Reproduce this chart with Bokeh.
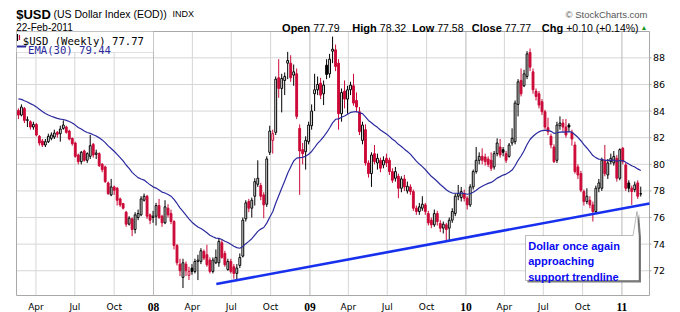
import pandas as pd
from bokeh.plotting import figure
from bokeh.models import (ColumnDataSource, Range1d, Label, BoxAnnotation, PolyAnnotation)
from bokeh.embed import file_html
from bokeh.resources import INLINE

# ---------------- data (weekly candles) ----------------
week_start = "2007-02-19"

opens = [
    84.05, 83.7, 84.2, 83.3, 83.2, 82.8, 83.0, 82.1, 81.75, 81.45,
    81.7, 81.95, 82.05, 82.4, 82.3, 82.7, 82.8, 82.5, 81.95, 81.6,
    80.7, 80.2, 81.0, 80.3, 80.6, 81.5, 80.75, 80.8, 80.0, 79.8,
    78.6, 77.7, 78.3, 78.2, 77.4, 77.05, 76.4, 75.5, 75.9, 75.1,
    76.0, 76.2, 77.3, 77.6, 76.2, 76.0, 76.1, 76.9, 76.1, 75.6,
    76.7, 76.3, 75.7, 73.9, 72.5, 71.5, 72.5, 71.65, 72.2, 71.95,
    72.7, 72.7, 73.45, 73.2, 72.8, 71.95, 72.6, 72.6, 74.1, 73.3,
    72.1, 72.7, 72.3, 71.8, 72.4, 73.1, 75.9, 77.2, 76.7, 77.6,
    78.5, 78.4, 77.7, 77.0, 80.9, 81.8, 82.4, 86.5, 85.7, 86.3,
    87.6, 87.6, 86.7, 86.8, 82.7, 81.1, 80.95, 81.7, 82.9, 85.3,
    85.6, 86.1, 85.3, 87.45, 86.8, 88.5, 88.6, 87.6, 83.8, 85.5,
    84.9, 85.6, 85.9, 84.8, 83.95, 81.8, 82.6, 80.1, 79.3, 80.8,
    80.1, 80.3, 79.95, 80.45, 80.3, 79.45, 78.95, 79.1, 78.2, 78.9,
    78.0, 78.3, 77.95, 76.7, 76.45, 76.7, 76.95, 76.3, 75.8, 75.45,
    76.3, 75.55, 75.2, 75.45, 75.2, 75.8, 76.3, 77.6, 77.5, 77.8,
    77.45, 76.95, 78.3, 79.45, 80.3, 80.6, 80.55, 80.4, 80.3, 79.8,
    80.8, 81.3, 81.1, 80.8, 80.6, 81.6, 81.7, 84.5, 86.3, 85.9,
    86.6, 88.4, 86.95, 85.5, 85.3, 84.7, 83.95, 82.75, 82.1, 81.3,
    80.3, 82.9, 83.1, 82.8, 82.95, 82.4, 81.45, 79.8, 79.3, 77.95,
    77.2, 77.3, 76.95, 76.45, 78.2, 78.2, 80.3, 79.2, 80.2, 80.1,
    80.45, 78.95, 81.2, 79.95, 78.6, 78.2, 78.1, 78.6, 77.79,
]
highs = [
    84.2, 84.5, 84.3, 83.6, 83.3, 83.2, 83.1, 82.2, 81.9, 81.9,
    82.3, 82.4, 82.6, 82.5, 82.9, 83.3, 82.9, 82.6, 82.0, 81.7,
    80.8, 81.0, 81.1, 80.9, 82.2, 81.6, 81.1, 80.9, 80.1, 79.9,
    78.7, 78.9, 78.4, 78.3, 77.5, 77.1, 76.5, 76.1, 76.0, 76.4,
    76.6, 77.6, 77.8, 77.7, 76.3, 76.5, 77.1, 77.4, 76.2, 77.3,
    77.0, 76.6, 75.8, 74.0, 72.9, 72.9, 72.7, 72.3, 72.5, 72.9,
    73.2, 73.7, 73.6, 73.95, 73.0, 73.0, 73.6, 74.4, 74.3, 73.5,
    72.9, 72.9, 72.5, 72.5, 73.3, 76.0, 77.3, 77.4, 77.5, 78.95,
    80.3, 78.6, 77.9, 80.6, 82.9, 82.6, 86.6, 87.9, 86.8, 86.9,
    88.45, 88.2, 87.5, 87.2, 83.0, 81.6, 82.1, 83.2, 84.5, 86.8,
    86.6, 86.5, 86.3, 87.9, 88.3, 89.6, 89.0, 87.9, 85.7, 86.3,
    85.9, 86.2, 86.8, 85.4, 84.3, 83.2, 83.0, 80.3, 80.9, 81.45,
    80.8, 80.5, 80.6, 80.8, 80.5, 79.7, 79.8, 79.3, 79.1, 79.2,
    78.7, 78.5, 78.1, 76.9, 77.1, 77.6, 77.1, 76.5, 76.0, 76.6,
    76.5, 75.8, 75.7, 75.6, 76.0, 76.7, 77.8, 78.45, 78.3, 78.1,
    77.6, 78.5, 79.6, 81.3, 80.9, 81.2, 80.8, 80.6, 80.9, 81.0,
    81.95, 81.9, 81.3, 81.0, 81.6, 82.7, 84.8, 86.4, 87.2, 87.1,
    88.5, 88.7, 87.2, 85.7, 85.5, 84.9, 84.1, 83.5, 82.3, 81.5,
    83.2, 83.6, 83.4, 83.4, 83.1, 82.6, 81.7, 80.0, 79.5, 78.1,
    78.2, 77.6, 77.2, 78.4, 78.9, 80.5, 81.45, 80.4, 80.8, 81.0,
    80.7, 81.2, 81.3, 80.1, 78.8, 78.4, 78.7, 78.8, 78.32,
]
lows = [
    83.4, 83.6, 83.1, 82.8, 82.6, 82.6, 82.1, 81.4, 81.3, 81.3,
    81.6, 81.8, 81.9, 82.0, 81.7, 82.6, 82.3, 81.8, 81.4, 80.5,
    80.0, 80.0, 80.2, 80.1, 80.4, 80.5, 80.4, 79.8, 79.4, 78.6,
    77.7, 77.6, 77.7, 76.9, 76.8, 76.6, 75.3, 75.4, 74.6, 74.8,
    75.8, 76.1, 77.2, 75.9, 75.5, 75.6, 75.4, 75.9, 75.3, 75.5,
    76.0, 75.5, 73.6, 72.4, 71.6, 70.7, 71.6, 71.3, 71.7, 71.8,
    71.3, 72.5, 72.8, 72.3, 71.8, 71.8, 72.5, 72.3, 72.9, 72.3,
    72.0, 71.8, 71.4, 71.3, 72.2, 73.0, 75.7, 76.4, 76.0, 76.9,
    78.3, 77.3, 75.95, 76.8, 80.7, 80.8, 82.2, 85.0, 83.9, 85.2,
    86.4, 86.2, 85.9, 83.4, 77.7, 80.0, 79.6, 81.5, 82.6, 84.0,
    85.2, 84.9, 84.45, 86.4, 86.5, 87.6, 87.0, 82.6, 83.2, 84.2,
    83.8, 85.2, 84.4, 83.9, 82.2, 81.5, 79.9, 79.0, 78.3, 80.0,
    79.6, 79.4, 79.7, 79.8, 79.2, 78.6, 78.7, 77.45, 77.9, 78.0,
    77.8, 77.7, 76.5, 76.2, 76.2, 76.5, 76.2, 75.4, 75.2, 75.3,
    75.4, 74.9, 74.8, 74.3, 74.2, 75.6, 76.1, 77.3, 77.2, 77.2,
    76.6, 76.8, 78.1, 79.3, 80.0, 80.0, 79.9, 79.8, 79.5, 79.6,
    80.6, 80.5, 80.6, 80.1, 80.5, 81.4, 81.5, 83.6, 85.1, 85.8,
    86.4, 87.0, 85.3, 84.8, 84.2, 83.7, 82.6, 82.2, 81.2, 80.1,
    80.1, 82.6, 82.5, 82.0, 82.5, 81.4, 79.3, 78.9, 77.9, 76.9,
    77.0, 76.7, 75.7, 76.3, 77.9, 78.0, 79.1, 78.9, 80.0, 79.9,
    78.7, 78.8, 80.0, 78.0, 77.9, 76.95, 77.9, 77.4, 77.58,
]
closes = [
    83.7, 84.3, 83.3, 83.35, 82.8, 83.0, 82.2, 81.6, 81.45, 81.7,
    82.1, 82.2, 82.35, 82.25, 82.65, 82.95, 82.4, 81.9, 81.55, 80.6,
    80.2, 80.9, 80.3, 80.8, 81.4, 80.7, 80.85, 79.9, 79.6, 78.7,
    77.8, 78.3, 78.05, 77.3, 76.95, 76.7, 75.5, 75.95, 75.1, 76.2,
    76.3, 77.4, 77.6, 76.1, 75.8, 76.1, 76.9, 76.0, 75.6, 76.8,
    76.2, 75.7, 73.9, 72.6, 72.0, 72.6, 72.0, 71.95, 71.95, 72.7,
    72.8, 73.5, 72.95, 72.45, 71.95, 72.8, 73.0, 74.2, 73.0, 72.45,
    72.7, 71.95, 71.8, 72.2, 73.0, 75.8, 77.1, 76.7, 77.3, 78.7,
    78.95, 77.6, 76.95, 80.4, 82.5, 82.3, 86.4, 85.7, 86.45, 86.6,
    87.8, 86.5, 86.95, 83.6, 81.0, 80.8, 81.8, 82.95, 84.0, 85.6,
    86.0, 85.2, 85.95, 86.75, 87.9, 88.65, 87.35, 83.8, 85.4, 84.9,
    85.6, 85.95, 84.6, 84.3, 82.45, 82.95, 80.1, 79.3, 80.7, 80.2,
    80.45, 79.7, 80.3, 80.1, 79.45, 78.8, 79.45, 78.2, 78.9, 78.3,
    78.35, 77.95, 76.7, 76.45, 76.8, 77.0, 76.45, 75.6, 75.45, 76.3,
    75.7, 75.2, 75.5, 75.1, 75.8, 76.45, 77.6, 77.8, 77.95, 77.45,
    76.95, 78.3, 79.45, 80.3, 80.6, 80.3, 80.2, 80.0, 79.7, 80.8,
    81.6, 80.7, 80.9, 80.3, 81.45, 81.95, 84.6, 86.2, 85.3, 86.8,
    88.3, 87.3, 85.6, 85.1, 84.45, 83.95, 82.8, 82.45, 81.45, 80.2,
    82.95, 83.1, 82.8, 82.2, 82.8, 81.9, 79.45, 79.2, 78.05, 77.2,
    77.6, 76.95, 76.45, 78.2, 78.6, 80.3, 79.3, 80.1, 80.45, 80.6,
    78.95, 81.1, 80.2, 78.2, 78.2, 77.95, 78.45, 77.6, 77.77,
]

ema_period = 30
ema_seed = 85.0          # EMA level at the left edge of the chart

y_ticks = [72, 74, 76, 78, 80, 82, 84, 86, 88]
month_ticks = ["2007-04-01", "2007-07-01", "2007-10-01", "2008-01-01",
               "2008-04-01", "2008-07-01", "2008-10-01", "2009-01-01",
               "2009-04-01", "2009-07-01", "2009-10-01", "2010-01-01",
               "2010-04-01", "2010-07-01", "2010-10-01", "2011-01-01"]
month_labels = ["Apr", "Jul", "Oct", "08", "Apr", "Jul", "Oct", "09",
                "Apr", "Jul", "Oct", "10", "Apr", "Jul", "Oct", "11"]

trend_dates = ["2008-05-27", "2011-03-06 12:00"]
trend_values = [71.0, 77.06]

note_lines = ["Dollar once again", "approaching", "support trendline"]

# ---------------- helpers ----------------
n = min(len(opens), len(highs), len(lows), len(closes))
opens, highs, lows, closes = opens[:n], highs[:n], lows[:n], closes[:n]


def ms(d):
    return pd.Timestamp(d).value / 1e6


dates = pd.date_range(week_start, periods=n, freq="7D")
xs = [d.value / 1e6 for d in dates]

# price-panel extent (data) and its place in picture pixels
X_START = ms("2007-02-14 12:00")
X_END = ms("2011-03-06 12:00")
Y_START, Y_END = 70.14, 89.98
REF_L, REF_R, REF_T, REF_B = 16, 649, 31, 295
W, H = 680, 312


def fx(px):
    return X_START + (px - REF_L) * (X_END - X_START) / (REF_R - REF_L)


def fy(py):
    return Y_END - (py - REF_T) * (Y_END - Y_START) / (REF_B - REF_T)


RED = "#cc0a38"
SANS = "Liberation Sans"
GRID = "#d6d6d6"

# the whole canvas is the frame
p = figure(width=W, height=H, output_backend="svg", toolbar_location=None,
           x_range=Range1d(fx(0), fx(W)), y_range=Range1d(fy(H), fy(0)),
           x_axis_location=None, y_axis_location=None,
           min_border=0, min_border_left=0, min_border_right=0,
           min_border_top=0, min_border_bottom=0,
           outline_line_color=None, background_fill_color="white",
           border_fill_color="white")
p.xgrid.visible = False
p.ygrid.visible = False

# grid lines inside the price panel
p.segment(x0=[X_START] * len(y_ticks), x1=[X_END] * len(y_ticks), y0=y_ticks, y1=y_ticks,
          line_color=GRID, line_width=1)
mt = [ms(t) for t in month_ticks]
p.segment(x0=mt, x1=mt, y0=[Y_START] * len(mt), y1=[Y_END] * len(mt),
          line_color=["#b9b9b9" if l.isdigit() else GRID for l in month_labels],
          line_width=1)
# panel border
p.quad(left=[X_START], right=[X_END], bottom=[Y_START], top=[Y_END],
       fill_color=None, line_color="#a8a8a8", line_width=1)

# ---------------- candles ----------------
prev = [opens[0]] + closes[:-1]
colors = ["#000000" if c >= pc else RED for c, pc in zip(closes, prev)]
fills = [col if c < o else "#ffffff" for col, o, c in zip(colors, opens, closes)]
src = ColumnDataSource(dict(
    x=xs, high=highs, low=lows,
    top=[max(o, c) for o, c in zip(opens, closes)],
    bottom=[min(o, c) for o, c in zip(opens, closes)],
    color=colors, fill=fills))
BODY_W = 4.3 * 24 * 3600 * 1000
p.segment(x0="x", y0="low", x1="x", y1="high", line_color="color", line_width=1, source=src)
p.vbar(x="x", width=BODY_W, top="top", bottom="bottom", fill_color="fill",
       line_color="color", line_width=1, source=src)

# EMA(30)
alpha = 2.0 / (ema_period + 1)
ema = []
e = ema_seed
for c in closes:
    e = e + alpha * (c - e)
    ema.append(e)
p.line(xs, ema, line_color="#2a2a9e", line_width=1.2)

# trendline
p.line([ms(d) for d in trend_dates], trend_values, line_color="#1630ee", line_width=2.6)


def lab(text, px, py, size, font=SANS, style="normal", color="#000000", align="left",
        baseline="alphabetic", x=None, y=None):
    p.add_layout(Label(x=fx(px) if x is None else x, y=fy(py) if y is None else y,
                       text=text, text_font=font,
                       text_font_size=size, text_font_style=style, text_color=color,
                       text_align=align, text_baseline=baseline))


# right price scale
p.segment(x0=[X_END] * len(y_ticks), x1=[fx(REF_R + 2)] * len(y_ticks), y0=y_ticks,
          y1=y_ticks, line_color="#a8a8a8", line_width=1)
for t in y_ticks:
    lab(str(t), 652.5, 0, "9.5px", font="DejaVu Sans", baseline="middle", y=t)

# month / year labels under the panel
for t, lbl in zip(month_ticks, month_labels):
    if lbl.isdigit():
        lab(lbl, 0, 306.5, "11.5px", font="Liberation Serif", style="bold", align="center",
            x=ms(t))
    else:
        lab(lbl, 0, 306.5, "9px", font="DejaVu Sans", align="center", x=ms(t))

# ---------------- callout ----------------
call = [(525, 235), (632.5, 235), (636.5, 211), (638.5, 235), (638.5, 280), (525, 280)]
p.add_layout(PolyAnnotation(xs=[fx(x + 2) for x, _ in call], ys=[fy(y + 2) for _, y in call],
                            fill_color="#7a7a7a", fill_alpha=1, line_color=None))
p.add_layout(PolyAnnotation(xs=[fx(x) for x, _ in call], ys=[fy(y) for _, y in call],
                            fill_color="#ffffff", fill_alpha=1, line_color="#222222",
                            line_width=1))
for k, line in enumerate(note_lines):
    lab(line, 527.7, 245 + 15.5 * k, "11px", style="bold", color="#0a0af0")

# ---------------- legend box ----------------
p.add_layout(BoxAnnotation(left=fx(16), right=fx(153), top=fy(31), bottom=fy(52),
                           fill_color="#ffffff", fill_alpha=1, line_color="#9a9a9a",
                           line_width=1))
p.segment(x0=[fx(17), fx(19)], y0=[fy(33.5), fy(34.5)], x1=[fx(17), fx(19)],
          y1=[fy(40.5), fy(39.5)], line_color=["#000000", RED], line_width=1.2,
          level="overlay")
p.segment(x0=[fx(16.5)], y0=[fy(46)], x1=[fx(25.5)], y1=[fy(46)], line_color="#2a2a9e",
          line_width=2, level="overlay")
lab("$USD (Weekly) %.2f" % closes[-1], 22.3, 40.0, "10.6px", font="DejaVu Sans Mono")
lab("EMA(30) 79.44", 27.5, 49.3, "10.6px", font="DejaVu Sans Mono", color="#2a2a9e")

# ---------------- header ----------------
lab("$USD", 15.7, 13.5, "13px", style="bold")
lab("(US Dollar Index (EOD))", 53, 13.5, "10.5px")
lab("INDX", 172, 13.5, "9px")
lab("22-Feb-2011", 15.7, 27, "10px")
lab("\u00a9 StockCharts.com", 647, 14, "9.5px", color="#555555", align="right")
stats = [("Open", "%.2f" % opens[-1], 312.7), ("High", "%.2f" % highs[-1], 379.3),
         ("Low", "%.2f" % lows[-1], 436.7), ("Close", "%.2f" % closes[-1], 504.3),
         ("Chg", "+0.10 (+0.14%)", 565.7)]
for name, val, px in stats:
    lab(name, px - 3, 27.5, "11px", style="bold", align="right")
    lab(val, px, 27.5, "10.5px")
lab("\u25b2", 640, 26.5, "7px", color="#1a9a1a")

open("out.html", "w").write(file_html(p, INLINE))
